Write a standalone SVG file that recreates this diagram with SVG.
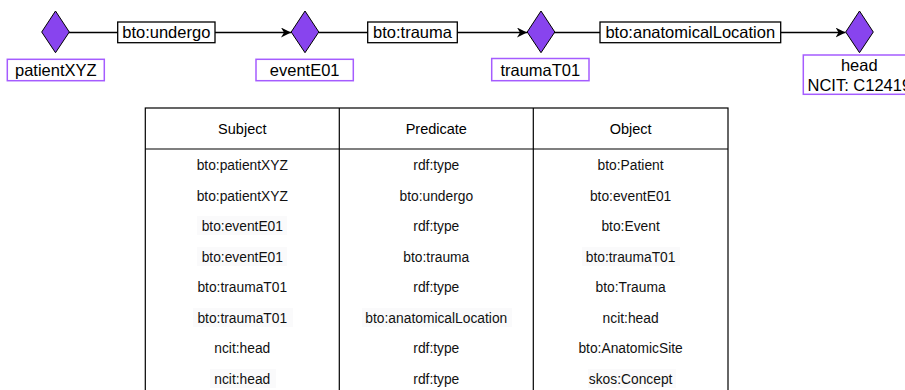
<svg xmlns="http://www.w3.org/2000/svg" width="905" height="390" viewBox="0 0 905 390">
<defs>
<marker id="arr" viewBox="0 0 10 10" refX="10" refY="5" markerWidth="10" markerHeight="10" markerUnits="userSpaceOnUse" orient="auto">
<path d="M0,0 L10,5 L0,10 L3,5 Z" fill="#000"/>
</marker>
<style>
.dia{fill:#8844ee;stroke:#000;stroke-width:1}
.nl{fill:#fff;stroke:#a55cff;stroke-width:1.5}
.el{fill:#fff;stroke:#000;stroke-width:1.3}
.t{font-family:"Liberation Sans",Arial,sans-serif;font-size:16.5px;fill:#000;text-anchor:middle}
.edge{stroke:#000;stroke-width:1.3;fill:none}
.tb{fill:none;stroke:#000;stroke-width:1.2}
.th{font-family:"Liberation Sans",Arial,sans-serif;font-size:14.5px;fill:#000;text-anchor:middle}
.td{font-family:"Liberation Sans",Arial,sans-serif;font-size:13.8px;fill:#111;text-anchor:middle}
.hl{fill:#fafafb}
</style>
</defs>
<g id="connectors">
<line class="edge" x1="69" y1="32.5" x2="118" y2="32.5"/>
<line class="edge" x1="215" y1="32.5" x2="291" y2="32.5" marker-end="url(#arr)"/>
<line class="edge" x1="319" y1="32.5" x2="368" y2="32.5"/>
<line class="edge" x1="457" y1="32.5" x2="527" y2="32.5" marker-end="url(#arr)"/>
<line class="edge" x1="554" y1="32.5" x2="600" y2="32.5"/>
<line class="edge" x1="781" y1="32.5" x2="845.5" y2="32.5" marker-end="url(#arr)"/>
<g id="e1-label"><rect class="el" x="117.7" y="22" width="97.3" height="20.7"/><text class="t" x="166.3" y="38.3">bto:undergo</text></g>
<g id="e2-label"><rect class="el" x="367.7" y="22" width="89.6" height="20.7"/><text class="t" x="412.5" y="38.3">bto:trauma</text></g>
<g id="e3-label"><rect class="el" x="600" y="22" width="180.7" height="20.7"/><text class="t" x="690.3" y="38.3">bto:anatomicalLocation</text></g>
</g>
<g id="patientXYZ">
<polygon class="dia" points="55.5,11 69.3,32 55.5,52.7 41.7,32"/>
<rect class="nl" x="7.3" y="59.3" width="97" height="21.4"/>
<text class="t" x="55.8" y="76">patientXYZ</text>
</g>
<g id="eventE01">
<polygon class="dia" points="305,11 318.8,32 305,52.7 291.2,32"/>
<rect class="nl" x="256" y="59.3" width="97.3" height="21.4"/>
<text class="t" x="304.7" y="76">eventE01</text>
</g>
<g id="traumaT01">
<polygon class="dia" points="541,11 554.8,32 541,52.7 527.2,32"/>
<rect class="nl" x="491.7" y="58.5" width="97.3" height="22.2"/>
<text class="t" x="540.3" y="76">traumaT01</text>
</g>
<g id="head">
<polygon class="dia" points="859.5,11 873.3,32 859.5,52.7 845.7,32"/>
<rect class="nl" x="803.3" y="55" width="112" height="39.3"/>
<text class="t" x="859.3" y="71">head</text>
<text class="t" x="859.3" y="91">NCIT: C12419</text>
</g>
<g id="triple-table">
<rect class="tb" x="145.3" y="108" width="582.7" height="290"/>
<line class="tb" x1="145.3" y1="149" x2="728" y2="149"/>
<line class="tb" x1="339.3" y1="108" x2="339.3" y2="392"/>
<line class="tb" x1="533.3" y1="108" x2="533.3" y2="392"/>
<g id="highlights">
<rect class="hl" x="197" y="216" width="90" height="19"/>
<rect class="hl" x="197" y="247" width="90" height="19"/>
<rect class="hl" x="582" y="247" width="98" height="19"/>
<rect class="hl" x="193" y="308" width="100" height="19"/>
<rect class="hl" x="362" y="308" width="150" height="19"/>
<rect class="hl" x="210" y="369" width="66" height="19"/>
<rect class="hl" x="588" y="369" width="88" height="19"/>
</g>
<text class="th" x="242.3" y="134">Subject</text>
<text class="th" x="436.3" y="134">Predicate</text>
<text class="th" x="630.6" y="134">Object</text>
<text class="td" x="242.3" y="170">bto:patientXYZ</text>
<text class="td" x="436.3" y="170">rdf:type</text>
<text class="td" x="630.6" y="170">bto:Patient</text>
<text class="td" x="242.3" y="200.5">bto:patientXYZ</text>
<text class="td" x="436.3" y="200.5">bto:undergo</text>
<text class="td" x="630.6" y="200.5">bto:eventE01</text>
<text class="td" x="242.3" y="231">bto:eventE01</text>
<text class="td" x="436.3" y="231">rdf:type</text>
<text class="td" x="630.6" y="231">bto:Event</text>
<text class="td" x="242.3" y="261.5">bto:eventE01</text>
<text class="td" x="436.3" y="261.5">bto:trauma</text>
<text class="td" x="630.6" y="261.5">bto:traumaT01</text>
<text class="td" x="242.3" y="292">bto:traumaT01</text>
<text class="td" x="436.3" y="292">rdf:type</text>
<text class="td" x="630.6" y="292">bto:Trauma</text>
<text class="td" x="242.3" y="322.5">bto:traumaT01</text>
<text class="td" x="436.3" y="322.5">bto:anatomicalLocation</text>
<text class="td" x="630.6" y="322.5">ncit:head</text>
<text class="td" x="242.3" y="353">ncit:head</text>
<text class="td" x="436.3" y="353">rdf:type</text>
<text class="td" x="630.6" y="353">bto:AnatomicSite</text>
<text class="td" x="242.3" y="383.5">ncit:head</text>
<text class="td" x="436.3" y="383.5">rdf:type</text>
<text class="td" x="630.6" y="383.5">skos:Concept</text>
</g>
</svg>
